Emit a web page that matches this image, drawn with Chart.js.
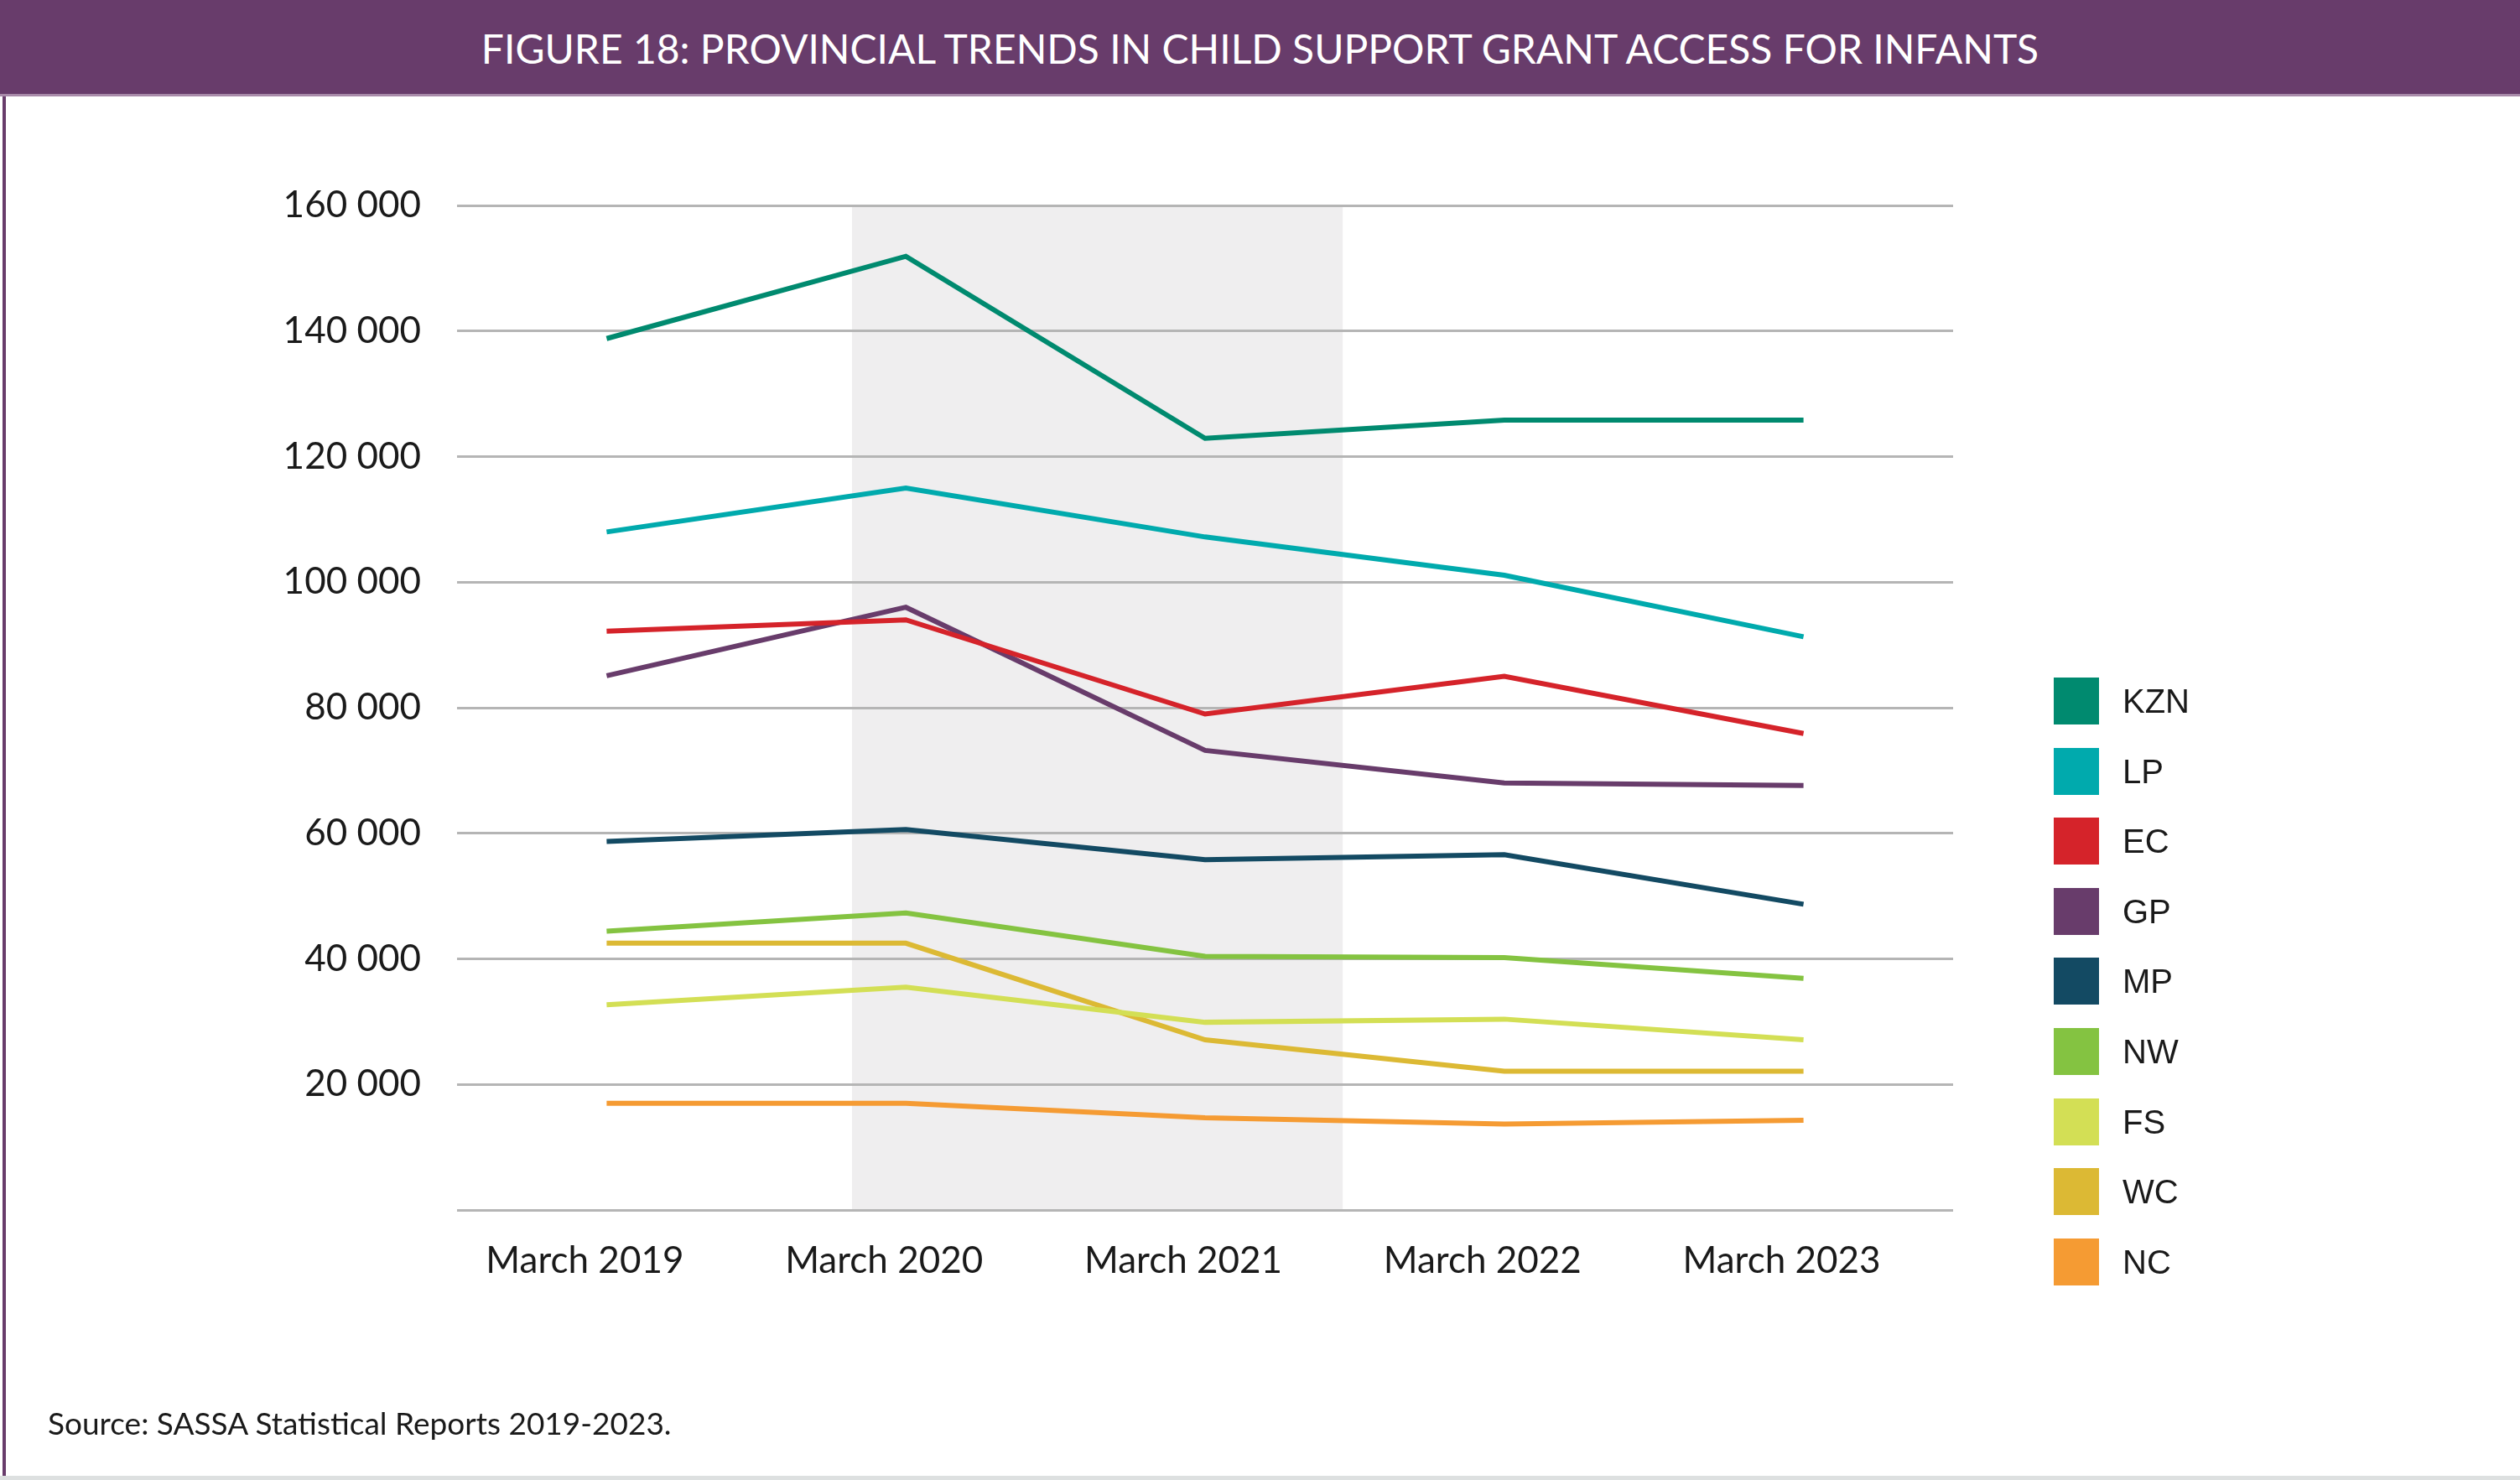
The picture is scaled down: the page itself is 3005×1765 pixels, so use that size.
<!DOCTYPE html>
<html>
<head>
<meta charset="utf-8">
<script src="https://cdn.jsdelivr.net/npm/chart.js@4.4.1/dist/chart.umd.min.js"></script>
<style>
    body { margin: 0; background: #ffffff; }
    #wrap { position: relative; width: 3005px; height: 1765px; overflow: hidden; }
    #titlebar {
        position: absolute; left: 0; top: 0; width: 3005px; height: 115px;
        background: #683c6b; color: #ffffff; z-index: 2;
        font-family: Lato, sans-serif; font-size: 48px; line-height: 115px;
        text-align: center; border-bottom: 3px solid #a88aa9; box-sizing: border-box;
    }
    #leftline { position: absolute; left: 3px; top: 115px; width: 4px; height: 1650px; background: #683c6b; z-index: 2; }
    #bottomline { position: absolute; left: 0; bottom: 0; width: 3005px; height: 5px; background: #dde0e0; z-index: 2; }
    #source {
        position: absolute; left: 57px; top: 1674px; z-index: 2;
        font-family: Lato, sans-serif; font-size: 37px; color: #1a1a1a;
    }
    #legend { position: absolute; left: 2449px; top: 808px; z-index: 2; font-family: "Liberation Sans", Arial, sans-serif; }
    .item { height: 83.6px; display: flex; align-items: flex-start; }
    .box { width: 54px; height: 56px; margin-right: 28px; }
    .lab { font-size: 40px; color: #1a1a1a; line-height: 56px; }
    canvas { position: absolute; left: 0; top: 0; }
</style>
</head>
<body>
<div id="wrap">
    <div id="titlebar">FIGURE 18: PROVINCIAL TRENDS IN CHILD SUPPORT GRANT ACCESS FOR INFANTS</div>
    <div id="leftline"></div>
    <canvas id="chart" width="3005" height="1765"></canvas>
    <div id="legend"></div>
    <div id="source">Source: SASSA Statistical Reports 2019-2023.</div>
    <div id="bottomline"></div>
</div>
<script>
// x categories and provinces
const years = ["March 2019", "March 2020", "March 2021", "March 2022", "March 2023"];
const provinces = ["KZN", "LP", "EC", "GP", "MP", "NW", "FS", "WC", "NC"];
const colours = ["#008a6f", "#00aaad", "#d5232a", "#683c6b", "#134a63", "#84c341", "#d3df55", "#dcb934", "#f59b33"];

// infants receiving the CSG, per province
const kzn = [138800, 151900, 122900, 125800, 125800];
const lp = [108000, 115000, 107200, 101100, 91300];
const ec = [92200, 94000, 79000, 85000, 75900];
const gp = [85100, 96000, 73200, 68000, 67600];
const mp = [58700, 60600, 55800, 56600, 48700];
const nw = [44400, 47300, 40400, 40200, 36900];
const fs = [32700, 35500, 29900, 30400, 27100];
const wc = [42500, 42500, 27100, 22100, 22100];
const nc = [17000, 17000, 14700, 13700, 14300];

const yTicks = [0, 20000, 40000, 60000, 80000, 100000, 120000, 140000, 160000];

// shaded covid period, in category index units
const bandStart = 0.82;
const bandEnd = 2.46;

const series = [kzn, lp, ec, gp, mp, nw, fs, wc, nc];
const datasets = [];
for (let i = 0; i < provinces.length; i++) {
    datasets.push({
        label: provinces[i],
        data: series[i],
        borderColor: colours[i],
        backgroundColor: colours[i],
        borderWidth: 6,
        pointRadius: 0,
        tension: 0
    });
}

//legend on the right, built from the datasets
const legend = document.getElementById("legend");
datasets.forEach(d => {
    legend.innerHTML += `<div class="item"><div class="box" style="background:${d.borderColor}"></div><div class="lab">${d.label}</div></div>`;
});

const bandPlugin = {
    id: "band",
    beforeDraw(chart) {
        const ctx = chart.ctx;
        const x = chart.scales.x, y = chart.scales.y;
        const x0 = x.getPixelForValue(bandStart), x1 = x.getPixelForValue(bandEnd);
        const y0 = y.getPixelForValue(yTicks[yTicks.length - 1]), y1 = y.getPixelForValue(0);
        ctx.save();
        ctx.fillStyle = "#efeeef";
        ctx.fillRect(x0, y0, x1 - x0, y1 - y0);
        ctx.restore();
    }
};

new Chart("chart", {
    type: "line",
    data: { labels: years, datasets: datasets },
    plugins: [bandPlugin],
    options: {
        responsive: false,
        animation: false,
        layout: { padding: { left: 0, right: 676, top: 245, bottom: 0 } },
        plugins: { legend: { display: false }, tooltip: { enabled: false } },
        scales: {
            x: {
                offset: true,
                grid: { display: false, drawTicks: false },
                border: { display: false },
                ticks: { color: "#1a1a1a", font: { family: "Lato", size: 44 }, padding: 34, maxRotation: 0, labelOffset: -26 },
                afterFit(scale) { scale.height = 322; }
            },
            y: {
                min: 0,
                max: 160000,
                afterBuildTicks(scale) { scale.ticks = yTicks.map(v => ({ value: v })); },
                grid: { color: "#b5b5b5", lineWidth: 3, drawTicks: false },
                border: { display: false },
                ticks: {
                    color: "#1a1a1a",
                    font: { family: "Lato", size: 44 },
                    padding: 43,
                    callback: v => v === 0 ? "" : v.toLocaleString("en").replace(/,/g, " ")
                },
                afterFit(scale) { scale.width = 545; }
            }
        }
    }
});
</script>
</body>
</html>
